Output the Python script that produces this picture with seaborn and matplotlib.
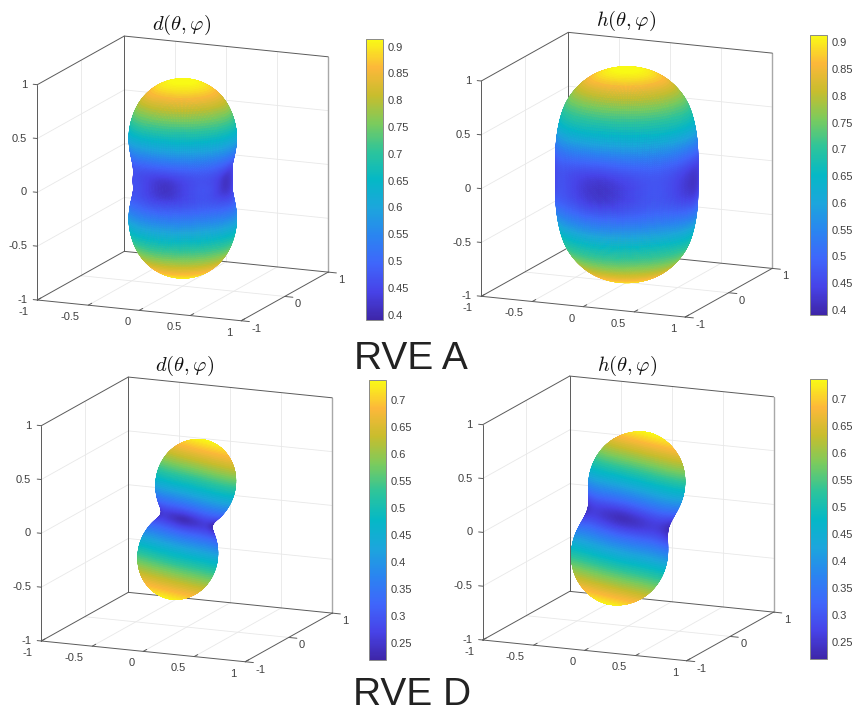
import numpy as np
import seaborn as sns
import matplotlib
matplotlib.use('Agg')
import matplotlib.pyplot as plt
from matplotlib.cm import ScalarMappable
from matplotlib.colors import Normalize
from mpl_toolkits.mplot3d import proj3d

# polar angle from the pole, degrees
polar_deg = [0, 10, 20, 30, 40, 50, 60, 70, 80, 90]
# azimuth, degrees, and the waviness read around the waist
azimuth_deg = [0, 22.5, 45, 67.5, 90, 112.5, 135, 157.5, 180, 202.5, 225, 247.5, 270, 292.5, 315, 337.5, 360]
azimuth_wave = [-1, 0, 1, 0, -1, 0, 1, 0, -1, 0, 1, 0, -1, 0, 1, 0, -1]

# RVE A
shape_a_d = [0.92, 0.905, 0.865, 0.80, 0.715, 0.635, 0.55, 0.48, 0.44, 0.44]
color_a_d = [0.925, 0.91, 0.865, 0.785, 0.70, 0.62, 0.535, 0.47, 0.44, 0.44]
ripple_a_d = [0, 0, 0, 0.001, 0.002, 0.004, 0.006, 0.012, 0.028, 0.04]
shape_a_h = [0.99, 0.98, 0.96, 0.915, 0.86, 0.785, 0.725, 0.68, 0.65, 0.64]
color_a_h = [0.925, 0.91, 0.865, 0.79, 0.715, 0.65, 0.56, 0.49, 0.445, 0.44]
ripple_a_h = [0, 0, 0, 0.001, 0.002, 0.004, 0.006, 0.012, 0.028, 0.04]
ticks_a = [0.4, 0.45, 0.5, 0.55, 0.6, 0.65, 0.7, 0.75, 0.8, 0.85, 0.9]
labels_a = ['0.4', '0.45', '0.5', '0.55', '0.6', '0.65', '0.7', '0.75', '0.8', '0.85', '0.9']

# RVE D
shape_d_d = [0.74, 0.725, 0.685, 0.625, 0.55, 0.47, 0.39, 0.32, 0.26, 0.24]
ripple_d_d = [0, 0, 0, 0.001, 0.002, 0.004, 0.006, 0.008, 0.014, 0.02]
shape_d_h = [0.80, 0.785, 0.75, 0.70, 0.635, 0.565, 0.495, 0.43, 0.39, 0.375]
color_d_h = [0.74, 0.725, 0.685, 0.625, 0.555, 0.475, 0.395, 0.325, 0.265, 0.24]
ripple_d_h = [0, 0, 0, 0.001, 0.002, 0.004, 0.006, 0.008, 0.014, 0.02]
ticks_d = [0.25, 0.3, 0.35, 0.4, 0.45, 0.5, 0.55, 0.6, 0.65, 0.7]
labels_d = ['0.25', '0.3', '0.35', '0.4', '0.45', '0.5', '0.55', '0.6', '0.65', '0.7']

parula = ['#3e26a8', '#4743e8', '#3f66fb', '#2a85f0', '#1ca6dc', '#05b8c6', '#2dc49b',
          '#7bcb5d', '#c8bd2d', '#fcb83a', '#f9fb15']

sns.set_style('white')
plt.rcParams['font.family'] = ['Liberation Sans', 'DejaVu Sans']
plt.rcParams['mathtext.fontset'] = 'cm'
cmap = sns.blend_palette(parula, as_cmap=True)

W, H = 852, 711
fig = plt.figure(figsize=(W / 100, H / 100), dpi=100)
text_col = '#404040'
line_col = '#5a5a5a'
grid_col = '#e8e8e8'


def smooth_polar(values, n=121):
    # table is 0..90 degrees, mirror it to 180 and smooth out the table corners
    a = np.array(polar_deg + [180 - p for p in polar_deg[-2::-1]], dtype=float)
    v = np.array(list(values) + list(values)[-2::-1], dtype=float)
    fine = np.linspace(0, 180, n)
    y = np.interp(fine, a, v)
    pad = 12
    padded = np.r_[y[pad:0:-1], y, y[-2:-pad - 2:-1]]
    kernel = np.ones(7) / 7
    for _ in range(2):
        padded = np.convolve(padded, kernel, mode='same')
    return padded[pad:-pad]


def smooth_wave(n=181):
    fine = np.linspace(0, 360, n)
    y = np.interp(fine, azimuth_deg, azimuth_wave)
    pad = 20
    padded = np.r_[y[-pad - 1:-1], y, y[1:pad + 1]]
    kernel = np.ones(9) / 9
    for _ in range(2):
        padded = np.convolve(padded, kernel, mode='same')
    return fine, padded[pad:-pad]


def screen(ax, pt):
    x, y, _ = proj3d.proj_transform(pt[0], pt[1], pt[2], ax.get_proj())
    return ax.transData.transform((x, y))


def place_box(ax, corner_px, edge_px):
    # scale and move the 3d axes so the front-left bottom corner lands on a given pixel
    ax.apply_aspect()
    low = screen(ax, (-1, -1, -1))
    top = screen(ax, (-1, -1, 1))
    ax.set_box_aspect((1, 1, 1), zoom=edge_px / (top[1] - low[1]))
    ax.apply_aspect()
    low = screen(ax, (-1, -1, -1))
    box = ax.get_position()
    dx = (corner_px[0] - low[0]) / W
    dy = ((H - corner_px[1]) - low[1]) / H
    ax.set_position([box.x0 + dx, box.y0 + dy, box.width, box.height])
    ax.apply_aspect()


def draw_box(ax):
    def seg(p, q, col=line_col, lw=0.7, z=3):
        ax.plot([p[0], q[0]], [p[1], q[1]], [p[2], q[2]], color=col, lw=lw, zorder=z)

    def label(pt, s, ha):
        # tick labels go on the figure, at the spot the box corner projects to
        px = screen(ax, pt)
        fig.text(px[0] / W, px[1] / H, s, ha=ha, va='center', fontsize=8, color=text_col)

    for v in [-0.5, 0, 0.5]:
        seg((v, 1, -1), (v, 1, 1), grid_col, 0.6, 1)
        seg((-1, 1, v), (1, 1, v), grid_col, 0.6, 1)
        seg((-1, -1, v), (-1, 1, v), grid_col, 0.6, 1)
        seg((v, -1, -1), (v, 1, -1), grid_col, 0.6, 1)
    seg((-1, 0, -1), (-1, 0, 1), grid_col, 0.6, 1)
    seg((-1, 0, -1), (1, 0, -1), grid_col, 0.6, 1)
    seg((-1, -1, -1), (-1, -1, 1))
    seg((-1, 1, -1), (-1, 1, 1), z=1)
    seg((1, 1, -1), (1, 1, 1), '#a8a8a8', 1.0, 1)
    seg((-1, -1, 1), (-1, 1, 1))
    seg((-1, 1, 1), (1, 1, 1))
    seg((-1, -1, -1), (1, -1, -1))
    seg((1, -1, -1), (1, 1, -1))
    seg((-1, -1, -1), (-1, 1, -1), z=1)
    seg((-1, 1, -1), (1, 1, -1), z=1)

    tick_vals = [-1, -0.5, 0, 0.5, 1]
    names = ['-1', '-0.5', '0', '0.5', '1']
    for v, s in zip(tick_vals, names):
        seg((-1.04, -1, v), (-1, -1, v))
        label((-1.1, -1, v - 0.01), s, 'right')
        seg((v, -1, -1), (v, -0.92, -1))
        label((v, -1.2, -1.065), s, 'right')
    for v, s in zip([-1, 0, 1], ['-1', '0', '1']):
        seg((1, v, -1), (1.08, v, -1))
        label((1.1, v, -1.065), s, 'left')


def panel(corner, shape, ripple, color=None, shape_ripple=1.0, tilt=0.0, tilt_dir=63.6, spin=0.0):
    ax = fig.add_axes([0.1, 0.1, 430 / W, 430 / H], projection='3d', proj_type='ortho', computed_zorder=False)
    ax.set_xlim(-1, 1)
    ax.set_ylim(-1, 1)
    ax.set_zlim(-1, 1)
    ax.set_xticks([])
    ax.set_yticks([])
    ax.set_zticks([])
    ax.view_init(elev=13.8, azim=-66.9)
    ax.set_box_aspect((1, 1, 1))
    ax.set_axis_off()
    ax.patch.set_alpha(0)
    place_box(ax, corner, 215.3)
    draw_box(ax)

    theta = np.radians(np.linspace(0, 180, 121))
    phi_deg, wave = smooth_wave()
    phi = np.radians(phi_deg)
    T, P = np.meshgrid(theta, phi, indexing='ij')
    wave_in = np.interp((phi_deg + spin) % 360, phi_deg, wave)
    rip = np.outer(smooth_polar(ripple), wave_in)
    r = smooth_polar(shape)[:, None] + rip * shape_ripple
    c = r if color is None else smooth_polar(color)[:, None] + rip
    X = r * np.sin(T) * np.cos(P)
    Y = r * np.sin(T) * np.sin(P)
    Z = r * np.cos(T)
    if tilt:
        # tip the pole over towards tilt_dir
        t, d = np.radians(tilt), np.radians(tilt_dir)
        ux, uy = -np.sin(d), np.cos(d)
        dot = ux * X + uy * Y
        cx, cy, cz = uy * Z, -ux * Z, ux * Y - uy * X
        X, Y, Z = (X * np.cos(t) + cx * np.sin(t) + ux * dot * (1 - np.cos(t)),
                   Y * np.cos(t) + cy * np.sin(t) + uy * dot * (1 - np.cos(t)),
                   Z * np.cos(t) + cz * np.sin(t))
    return ax, X, Y, Z, c


def finish(ax, X, Y, Z, c, vmin, vmax, cbar_px, ticks, labels, title, title_px):
    norm = Normalize(vmin, vmax)
    ax.plot_surface(X, Y, Z, facecolors=cmap(norm(c)), rstride=1, cstride=1, shade=False,
                    linewidth=0.3, antialiased=True, zorder=2)
    x0, x1, y0, y1 = cbar_px
    cax = fig.add_axes([x0 / W, 1 - y1 / H, (x1 - x0) / W, (y1 - y0) / H])
    cb = fig.colorbar(ScalarMappable(norm=norm, cmap=cmap), cax=cax)
    cb.set_ticks(ticks)
    cb.set_ticklabels(labels)
    cb.ax.tick_params(direction='in', length=3, width=0.6, color='#555555', labelsize=8,
                      labelcolor=text_col, pad=3, right=True)
    cb.outline.set_edgecolor('#8a8a8a')
    cb.outline.set_linewidth(0.7)
    fig.text(title_px[0] / W, 1 - title_px[1] / H, title, ha='center', va='center', fontsize=14.8, color='#111111')


ax, X, Y, Z, c = panel((37.3, 300), shape_a_d, ripple_a_d, color=color_a_d)
finish(ax, X, Y, Z, c, 0.39, 0.914, (366, 383, 39, 320), ticks_a, labels_a, r'$d(\theta,\varphi)$', (182, 25))

ax, X, Y, Z, c = panel((481.3, 296.3), shape_a_h, ripple_a_h, color=color_a_h, shape_ripple=0.15)
finish(ax, X, Y, Z, c, 0.39, 0.914, (810, 827, 35, 315), ticks_a, labels_a, r'$h(\theta,\varphi)$', (626, 21))

ax, X, Y, Z, c = panel((41.3, 641), shape_d_d, ripple_d_d, tilt=18.4, spin=-13)
finish(ax, X, Y, Z, c, 0.2185, 0.737, (369, 386, 380, 660), ticks_d, labels_d, r'$d(\theta,\varphi)$', (185, 366))

ax, X, Y, Z, c = panel((482.7, 640), shape_d_h, ripple_d_h, color=color_d_h, shape_ripple=0.5, tilt=18.4, spin=-13)
finish(ax, X, Y, Z, c, 0.2185, 0.737, (810, 827, 379, 659), ticks_d, labels_d, r'$h(\theta,\varphi)$', (627, 366))

fig.text(411 / W, 1 - 369 / H, 'RVE A', ha='center', va='baseline', fontsize=28, color='#222222')
fig.text(412 / W, 1 - 705 / H, 'RVE D', ha='center', va='baseline', fontsize=28, color='#222222')

fig.savefig('out.png', dpi=100)
